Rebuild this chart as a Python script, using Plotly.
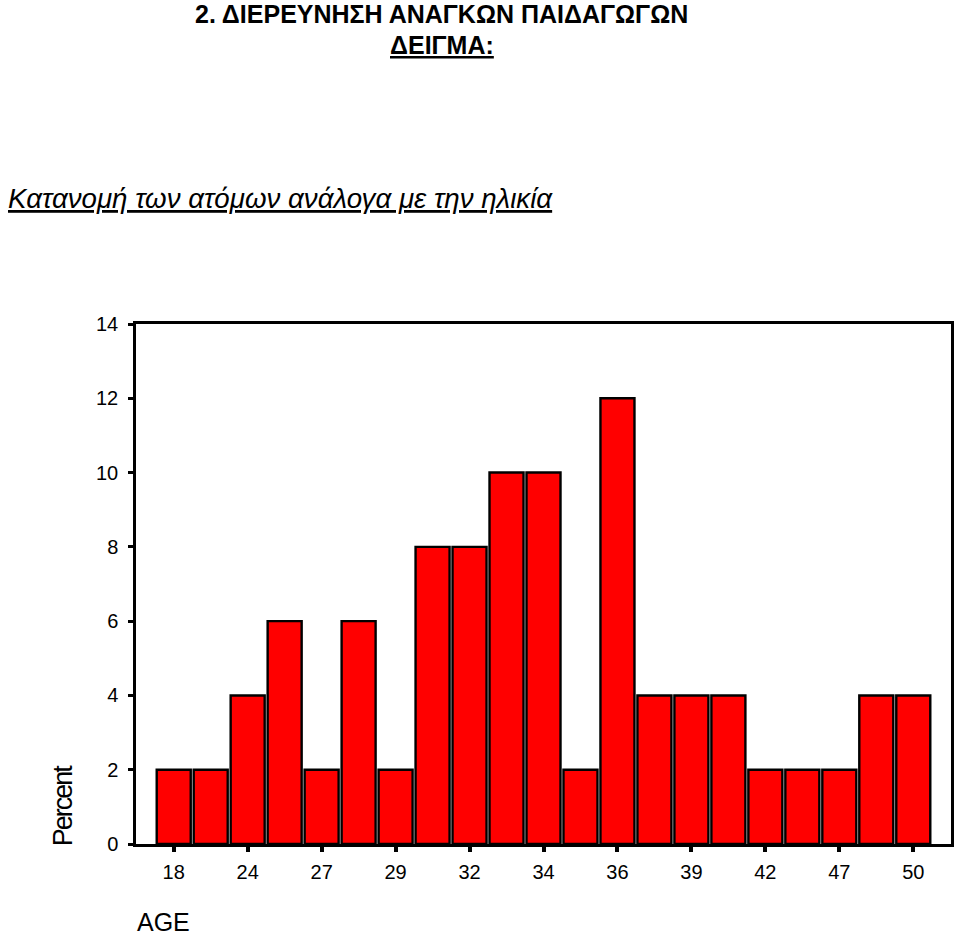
import plotly.graph_objects as go

ages = ["18", "22", "24", "26", "27", "28", "29", "30", "32", "33", "34",
        "35", "36", "37", "39", "40", "42", "45", "47", "48", "50"]
percent = [2, 2, 4, 6, 2, 6, 2, 8, 8, 10, 10, 2, 12, 4, 4, 4, 2, 2, 2, 4, 4]
tick_labels = ["18", "24", "27", "29", "32", "34", "36", "39", "42", "47", "50"]
y_ticks = [0, 2, 4, 6, 8, 10, 12, 14]

W, H = 959, 935
L, R, T, B = 136, 5, 324, 91

fig = go.Figure()
fig.add_trace(go.Bar(
    x=ages, y=percent,
    marker=dict(color="#ff0000", line=dict(color="black", width=2.4)),
    width=0.92,
))

fig.update_layout(
    width=W, height=H,
    margin=dict(l=L, r=R, t=T, b=B),
    paper_bgcolor="white", plot_bgcolor="white",
    showlegend=False,
    font=dict(family="Arial, Liberation Sans, sans-serif", color="black", size=18),
    xaxis=dict(
        type="category", categoryorder="array", categoryarray=ages,
        range=[-1.02, 21.02],
        tickvals=tick_labels, ticktext=tick_labels,
        ticks="outside", ticklen=5, tickwidth=4, tickcolor="black",
        showline=True, linecolor="black", linewidth=2.5, mirror=True,
        showgrid=False, zeroline=False,
        tickfont=dict(size=20),
        ticklabelstandoff=3,
    ),
    yaxis=dict(
        range=[0, 14], tickvals=y_ticks,
        ticks="outside", ticklen=5, tickwidth=3, tickcolor="black",
        showline=True, linecolor="black", linewidth=2.5, mirror=True,
        showgrid=False, zeroline=False,
        tickfont=dict(size=20),
        ticklabelstandoff=6,
    ),
)

pw = W - L - R
ph = H - T - B


def px_ann(text, x, y, size, angle=0):
    fig.add_annotation(
        text=text, xref="paper", yref="paper",
        x=(x - L) / pw, y=(H - y - B) / ph,
        xanchor="center", yanchor="middle",
        showarrow=False, textangle=angle, font=dict(size=size),
    )


px_ann("<b>2. ΔΙΕΡΕΥΝΗΣΗ ΑΝΑΓΚΩΝ ΠΑΙΔΑΓΩΓΩΝ</b>", 443, 14, 25)
px_ann("<b><u>ΔΕΙΓΜΑ:</u></b>", 443, 45, 25)
px_ann("<i><u>Κατανομή των ατόμων ανάλογα με την ηλικία</u></i>", 281, 198, 27.7)
px_ann('<span style="letter-spacing:-2px">Percent</span>', 63, 805, 27, angle=-90)
px_ann("AGE", 164, 922, 25)

fig.write_html(
    "out.html",
    config={"displayModeBar": False},
    post_script="document.body.style.margin='0';document.body.style.overflow='hidden';",
)
